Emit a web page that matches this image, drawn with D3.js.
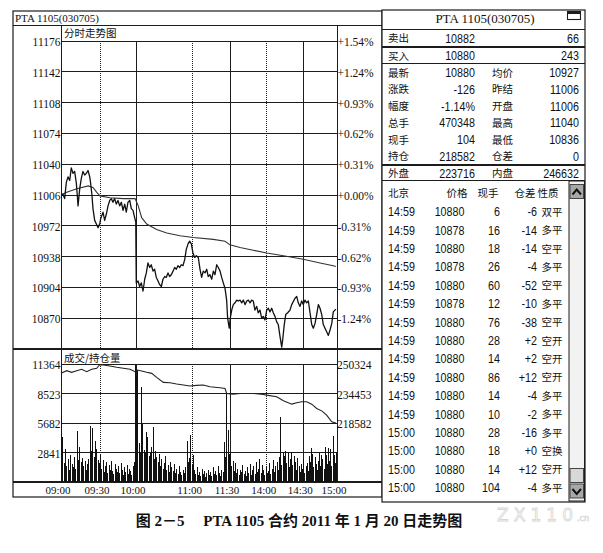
<!DOCTYPE html>
<html>
<head>
<meta charset="utf-8">
<script src="https://cdn.jsdelivr.net/npm/d3@7"></script>
<style>
body{margin:0;background:#fff;}
text{fill:#111;}
line{shape-rendering:crispEdges;}
.ax{font-family:"Liberation Serif",serif;font-size:11.5px;}
.tm{font-family:"Liberation Serif",serif;font-size:11px;}
.cn{font-family:"Noto Sans CJK SC",sans-serif;font-size:10.5px;}
.num{font-family:"Liberation Sans",Arial,sans-serif;font-size:12.5px;}
</style>
</head>
<body>
<svg id="chart" width="603" height="553"></svg>
<script>
// ---- data ----
var timeLabels = ["09:00","09:30","10:00","11:00","11:30","14:00","14:30","15:00"];
var timeTickMin = [0,30,60,105,135,165,195,225];   // trading minutes since 09:00
var dottedTicks = ["09:30","11:00","14:00"];

var priceTicks = [11176,11142,11108,11074,11040,11006,10972,10938,10904,10870];
var pctLabels = ["+1.54%","+1.24%","+0.93%","+0.62%","+0.31%","+0.00%","-0.31%","-0.62%","-0.93%","-1.24%"];
var volTicks = [11364,8523,5682,2841];
var oiTicks = [250324,234453,218582];

var priceMin = [0,1.5,2.8,4.1,5.4,6.7,7.9,9.2,10.5,11.8,
 12.5,13.1,14.4,15.6,16.9,18.2,19.5,20.8,22.1,22.8,
 23.8,24.6,25.9,27.2,28.5,29.8,30.6,32.5,33.9,35.3,
 36.7,38.1,39.4,40.8,42.2,43.6,45.0,46.4,47.8,49.2,
 50.6,51.9,53.3,54.8,56.1,57.5,58.9,59.8,60.2,61.6,
 62.9,64.2,65.6,66.9,68.2,69.5,70.9,72.1,73.5,74.8,
 76.1,77.5,78.8,80.1,81.4,82.8,84.0,85.4,86.7,88.0,
 89.4,90.7,92.0,93.3,94.7,95.9,97.3,98.7,99.9,101.3,
 102.6,103.9,105.2,106.6,107.9,109.5,110.9,112.2,113.5,114.9,
 116.3,117.5,118.9,120.3,121.6,122.9,124.3,125.6,127.0,128.3,
 129.6,131.0,132.3,133.1,134.4,135.2,136.4,137.7,139.1,140.5,
 141.8,143.2,144.6,145.9,147.3,148.7,150.0,151.4,152.7,154.0,
 155.4,156.8,158.1,159.5,160.9,162.2,163.6,165.0,166.3,167.7,
 169.1,170.4,171.8,173.2,174.5,175.9,177.3,178.1,179.4,180.6,
 182.2,184.1,185.5,188.2,189.6,190.9,192.3,193.7,195.0,196.5,
 198.0,199.5,201.0,202.5,203.9,205.4,206.9,208.4,209.9,211.4,
 212.8,214.3,215.8,217.3,218.8,220.3,221.7,224];
var priceVal = [11006,11007,11002,11020,11026,11022,11036,11030,11032,11019,
 11006,10994,11013,11024,11032,11028,11030,11033,11026,11019,
 11006,10991,10978,10974,10970,10974,10980,10987,10978,10985,
 10994,11000,11002,10998,11002,10996,11000,10994,10998,10989,
 10996,10987,10998,11000,10991,10989,10981,10976,10909,10911,
 10905,10909,10900,10913,10920,10931,10926,10929,10922,10924,
 10915,10911,10907,10905,10913,10916,10915,10920,10916,10918,
 10922,10926,10924,10928,10926,10929,10928,10935,10946,10952,
 10955,10952,10942,10937,10939,10937,10924,10915,10922,10920,
 10924,10916,10918,10913,10922,10918,10929,10926,10922,10915,
 10909,10903,10890,10870,10859,10870,10879,10885,10887,10890,
 10889,10890,10887,10890,10885,10889,10890,10887,10890,10889,
 10879,10883,10876,10879,10870,10872,10868,10879,10881,10877,
 10881,10876,10872,10866,10863,10850,10838,10846,10863,10874,
 10876,10879,10885,10892,10894,10887,10883,10889,10885,10890,
 10887,10889,10876,10863,10859,10864,10874,10885,10881,10874,
 10863,10859,10855,10851,10857,10864,10877,10880];

var avgMin = [0,4.4,12.1,21.0,24.8,27.5,30,38.3,49.4,59.2,
 61.8,64.5,68.5,76.4,84.4,94.9,105.5,121.6,131.0,135.0,
 143.2,154.0,165.0,178.7,195.0,209.9,221.7,224];
var avgVal = [11006,11009,11013,11016,11014,11009,11005,11003,11002,11002,
 10994,10981,10974,10968,10964,10961,10959,10957,10955,10951,
 10948,10945,10942,10939,10935,10931,10928,10927];

var oiMin = [0,4.4,8.2,12.1,15.9,19.8,23.6,27.5,29.5,32.8,
 38.3,43.9,49.4,55.0,59.2,61.0,64.5,68.5,72.5,76.4,
 81.7,87.0,92.3,97.6,102.9,108.2,113.5,118.9,127.0,131.0,
 132.3,137.7,143.2,154.0,162.2,165.0,173.2,178.7,185.5,189.6,
 193.7,198.0,202.5,206.9,211.4,215.8,220.3,224];
var oiVal = [245450,246890,245990,246890,247620,246350,247620,248160,249960,249960,
 249420,248700,248160,247620,246350,247250,246710,245990,245450,243280,
 240570,240390,239670,239130,238590,238950,239130,238220,237680,237320,
 234610,234250,234610,234610,234070,233710,232810,230640,228830,229560,
 230100,230100,228830,226490,225220,222870,219260,218582];

// one bar per trading minute, 09:00 .. 14:59
var volume = [
 6400,4300,1800,3200,1500,2200,1200,2600,1700,1400,2400,1300,4900,2100,3400,
 1900,2300,1500,2000,1200,1700,2200,5400,3000,5200,2400,4000,3200,2100,1800,
 2600,1300,2100,1000,1500,1900,900,1600,1200,2000,1100,800,1700,1300,1000,
 1500,900,1800,1200,700,1400,1000,1600,800,1300,1100,700,1500,1900,11300,
 10200,10800,3800,2900,9200,5600,3100,2800,4800,4300,2500,2800,3400,5300,2200,
 3000,2400,1900,2700,1500,2200,1300,1800,2500,1200,1600,1000,1900,1400,1100,
 1700,900,1300,800,1500,1000,700,1200,900,1400,4000,1900,2300,4500,1600,
 2600,1200,800,1400,700,1000,600,1300,800,1100,500,900,1200,700,1000,
 600,1400,800,1100,700,1500,900,600,1200,1000,3900,2400,8500,5000,2700,
 3000,1500,2000,1100,1800,900,1300,700,1200,1000,1600,800,1100,600,1400,
 900,1700,700,1200,1500,800,1900,1000,1300,2200,900,1600,1200,700,1500,
 900,1100,1800,800,1300,2100,1000,1500,1900,1200,2400,6300,1600,2900,2500,
 3000,1800,2800,1400,2200,2900,1600,2500,1900,1200,2300,1500,1000,1700,1300,
 2200,900,1500,1800,1100,2500,1900,3300,2700,1400,2400,1700,1200,2000,2800,
 1500,2600,2200,1300,3400,2600,1700,3300,2000,3200,1500,4400,2600,1800,2900];

var quoteTitle = "PTA 1105(030705)";
var quoteRows = [
 ["卖出","10882","","66"],
 ["买入","10880","","243"],
 ["最新","10880","均价","10927"],
 ["涨跌","-126","昨结","11006"],
 ["幅度","-1.14%","开盘","11006"],
 ["总手","470348","最高","11040"],
 ["现手","104","最低","10836"],
 ["持仓","218582","仓差","0"],
 ["外盘","223716","内盘","246632"]];
var tickHeader = ["北京","价格","现手","仓差","性质"];
var tickTime = ["14:59","14:59","14:59","14:59","14:59","14:59","14:59","14:59","14:59","14:59","14:59","14:59","15:00","15:00","15:00","15:00"];
var tickPrice = [10880,10878,10880,10878,10880,10878,10880,10880,10880,10880,10880,10880,10880,10880,10880,10880];
var tickHand = [6,16,18,26,60,12,76,28,14,86,14,10,28,18,14,104];
var tickOI = ["-6","-14","-14","-4","-52","-10","-38","+2","+2","+12","-4","-2","-16","+0","+12","-4"];
var tickType = ["双平","多平","空平","多平","空平","多平","空平","空开","空开","空开","多平","多平","多平","空换","空开","多平"];

// ---- drawing ----
var INK = "#1c1c1c";
var svg = d3.select("#chart");
svg.append("rect").attr("width", 603).attr("height", 553).attr("fill", "#fff");

var x = d3.scaleLinear().domain(timeTickMin).range([61,100,136,192.7,230,266.7,303.3,337]);
var yP = d3.scaleLinear().domain([10836, 11176]).range([349, 41]);
var yV = d3.scaleLinear().domain([0, 11364]).range([482, 364.3]);
var yOI = d3.scaleLinear().domain([186840, 250324]).range([482, 364.3]);

function hline(g, x1, x2, y, w) {
  g.append("line").attr("x1", x1).attr("x2", x2).attr("y1", y).attr("y2", y)
    .attr("stroke", INK).attr("stroke-width", w || 1);
}
function vline(g, xx, y1, y2, w, dash) {
  g.append("line").attr("x1", xx).attr("x2", xx).attr("y1", y1).attr("y2", y2)
    .attr("stroke", INK).attr("stroke-width", w || 1).attr("stroke-dasharray", dash || null);
}

var left = svg.append("g");
// frame of the left window
left.append("rect").attr("x", 13).attr("y", 11).attr("width", 369).attr("height", 486)
  .attr("fill", "none").attr("stroke", INK).attr("stroke-width", 1.2);
hline(left, 13, 382, 25);
hline(left, 13, 382, 349, 1.2);
hline(left, 13, 382, 482, 1.2);
vline(left, 61, 25, 482);
vline(left, 337, 25, 482);
left.append("text").attr("class", "ax").attr("x", 15).attr("y", 21.5)
  .style("font-size", "11px").text(quoteTitle);
left.append("text").attr("class", "cn").attr("x", 64).attr("y", 37).text("分时走势图");
left.append("text").attr("class", "cn").attr("x", 64).attr("y", 361.5).text("成交/持仓量");

// price grid
priceTicks.forEach(function (t, i) {
  hline(left, 61, 337, yP(t));
  left.append("text").attr("class", "ax").attr("x", 60.5).attr("y", yP(t) + 5)
    .attr("text-anchor", "end").text(t);
  left.append("text").attr("class", "ax").attr("x", 337.5).attr("y", yP(t) + 5)
    .text(pctLabels[i]);
});
// volume grid
volTicks.forEach(function (t) {
  hline(left, 61, 337, yV(t));
  left.append("text").attr("class", "ax").attr("x", 60.5).attr("y", yV(t) + 5)
    .attr("text-anchor", "end").text(t);
});
oiTicks.forEach(function (t) {
  left.append("text").attr("class", "ax").attr("x", 337).attr("y", yOI(t) + 5).text(t);
});
// time grid
timeTickMin.forEach(function (m, i) {
  if (i > 0 && i < timeTickMin.length - 1) {
    var dash = dottedTicks.indexOf(timeLabels[i]) >= 0 ? "1,1" : null;
    vline(left, x(m), yP(11176), 349, 1, dash);
    vline(left, x(m), yV(11364), 482, 1, dash);
  }
  left.append("text").attr("class", "tm").attr("x", x(m) - 3).attr("y", 494)
    .attr("text-anchor", "middle").text(timeLabels[i]);
});

// price and average lines
var lineP = d3.line().x(function (d) { return x(d[0]); }).y(function (d) { return yP(d[1]); });
left.append("path").datum(d3.zip(avgMin, avgVal)).attr("d", lineP)
  .attr("fill", "none").attr("stroke", "#333").attr("stroke-width", 1.1);
left.append("path").datum(d3.zip(priceMin, priceVal)).attr("d", lineP)
  .attr("fill", "none").attr("stroke", "#111").attr("stroke-width", 1.3)
  .attr("stroke-linejoin", "round");

// volume bars
left.append("g").attr("shape-rendering", "crispEdges")
  .selectAll("rect").data(volume).join("rect")
  .attr("x", function (d, i) { return x(i + 0.5) - 0.5; })
  .attr("width", 1)
  .attr("y", function (d) { return yV(d); })
  .attr("height", function (d) { return yV(0) - yV(d); })
  .attr("fill", "#111");
// open interest line
var lineOI = d3.line().x(function (d) { return x(d[0]); }).y(function (d) { return yOI(d[1]); });
left.append("path").datum(d3.zip(oiMin, oiVal)).attr("d", lineOI)
  .attr("fill", "none").attr("stroke", "#222").attr("stroke-width", 1.1);

// ---- right quote window ----
var right = svg.append("g");
right.append("rect").attr("x", 382).attr("y", 10).attr("width", 203).attr("height", 492)
  .attr("fill", "#fff").attr("stroke", INK).attr("stroke-width", 1.2);
hline(right, 382, 585, 29.5, 1.2);
hline(right, 382, 585, 47, 1.6);
hline(right, 382, 585, 63.5, 1.6);
hline(right, 382, 585, 165, 1.4);
hline(right, 382, 585, 180.5, 1.1);
// window button
right.append("rect").attr("x", 567.5).attr("y", 11.5).attr("width", 13).attr("height", 8)
  .attr("fill", "#fff").attr("stroke", INK).attr("stroke-width", 1.1);
hline(right, 567.5, 580.5, 13.3, 1.8);
right.append("text").attr("class", "ax").attr("x", 485).attr("y", 23)
  .attr("text-anchor", "middle").style("font-size", "13px").text(quoteTitle);

function num(g, xx, yy, s, anchor) {
  g.append("text").attr("class", "num")
    .attr("transform", "translate(" + xx + "," + yy + ") scale(0.86,1)")
    .attr("text-anchor", anchor || "end").text(s);
}
function cn(g, xx, yy, s, anchor) {
  g.append("text").attr("class", "cn").attr("x", xx).attr("y", yy)
    .attr("text-anchor", anchor || "start").text(s);
}

quoteRows.forEach(function (r, i) {
  var cy = i < 2 ? 38.3 + 17.2 * i : 72.7 + 16.75 * (i - 2);
  cn(right, 388, cy + 4, r[0]);
  num(right, 475, cy + 4.5, r[1]);
  if (r[2]) cn(right, 492, cy + 4, r[2]);
  num(right, 579, cy + 4.5, r[3]);
});

// tick list header
var hx = [388, 457, 488, 525, 548];
tickHeader.forEach(function (h, i) {
  cn(right, hx[i], 196.5, h, i === 0 ? "start" : "middle");
});
tickTime.forEach(function (t, k) {
  var cy = 211.7 + 18.4 * k;
  num(right, 388, cy + 4.5, t, "start");
  num(right, 464.5, cy + 4.5, tickPrice[k]);
  num(right, 500, cy + 4.5, tickHand[k]);
  num(right, 537, cy + 4.5, tickOI[k]);
  cn(right, 541.5, cy + 4, tickType[k]);
});

// scrollbar
var sb = right.append("g");
sb.append("rect").attr("x", 569).attr("y", 181).attr("width", 15.5).attr("height", 320)
  .attr("fill", "#f2f2f2").attr("stroke", INK).attr("stroke-width", 1);
[[184.5, "up"], [468.5, "thumb"], [484, "down"]].forEach(function (b) {
  sb.append("rect").attr("x", 570).attr("y", b[0]).attr("width", 13.5).attr("height", 14)
    .attr("fill", b[1] === "thumb" ? "#d8d8d8" : "#a8a8a8").attr("stroke", "#444");
  if (b[1] === "up") {
    sb.append("path").attr("d", "M572.5," + (b[0] + 10) + "L576.7," + (b[0] + 5) + "L581," + (b[0] + 10))
      .attr("fill", "none").attr("stroke", "#111").attr("stroke-width", 2);
  } else if (b[1] === "down") {
    sb.append("path").attr("d", "M572.5," + (b[0] + 5) + "L576.7," + (b[0] + 10) + "L581," + (b[0] + 5))
      .attr("fill", "none").attr("stroke", "#111").attr("stroke-width", 2);
  }
});

// caption
svg.append("text").attr("x", 299).attr("y", 526).attr("text-anchor", "middle")
  .style("font-family", "'Liberation Serif','Noto Sans CJK SC',serif")
  .style("font-size", "15px").style("font-weight", "bold").style("white-space", "pre")
  .text("图 2－5\u3000 PTA 1105 合约 2011 年 1 月 20 日走势图");
// faint watermark
svg.append("text").attr("x", 497).attr("y", 521)
  .style("font-family", "'DejaVu Sans',sans-serif").style("font-size", "17px")
  .attr("textLength", 76).attr("stroke", "#d6d6d6").attr("stroke-width", 0.8)
  .style("fill", "none").text("ZX110");
svg.append("text").attr("x", 577).attr("y", 521)
  .style("font-family", "'DejaVu Sans',sans-serif").style("font-size", "8px")
  .style("fill", "none").attr("stroke", "#d6d6d6").attr("stroke-width", 0.6).text(".cn");
</script>
</body>
</html>
